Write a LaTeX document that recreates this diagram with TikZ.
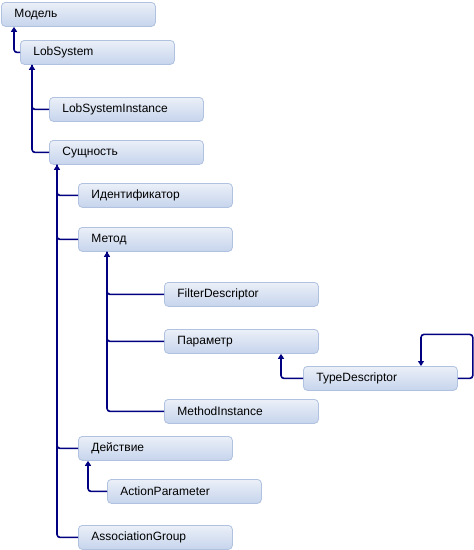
\documentclass[tikz,border=0pt]{standalone}
\usepackage{fontspec}
\setmainfont{Liberation Sans}
\usetikzlibrary{calc,arrows.meta}
\definecolor{navy}{HTML}{000080}
\definecolor{boxtop}{HTML}{EBF0F8}
\definecolor{boxbot}{HTML}{C6D4EC}
\definecolor{boxline}{HTML}{B0C2E0}
\tikzset{
  box/.style={anchor=north west, rounded corners=4pt, draw=boxline, line width=0.8pt,
    top color=boxtop, bottom color=boxbot, minimum height=24pt, text width=128pt,
    inner xsep=13pt, inner ysep=0pt, align=left, font=\fontsize{12pt}{14pt}\selectfont},
  conn/.style={draw=navy, line width=1.6pt, rounded corners=3pt, -{Triangle[length=5pt,width=6pt]}},
  plain/.style={draw=navy, line width=1.6pt, rounded corners=3pt},
}
\begin{document}
\begin{tikzpicture}[x=1pt,y=-1pt]
\useasboundingbox (0,0) rectangle (474,550);
\node[box] (model) at (1,2) {Модель};
\node[box] (lobsys) at (20,40) {LobSystem};
\node[box] (lsi) at (49,97) {LobSystemInstance};
\node[box] (ent) at (49,140) {Сущность};
\node[box] (ident) at (78,183) {Идентификатор};
\node[box] (method) at (78,227) {Метод};
\node[box] (filter) at (164,282) {FilterDescriptor};
\node[box] (param) at (164,329) {Параметр};
\node[box] (typed) at (303,366) {TypeDescriptor};
\node[box] (minst) at (164,399) {MethodInstance};
\node[box] (action) at (78,436) {Действие};
\node[box] (aparam) at (107,479) {ActionParameter};
\node[box] (assoc) at (78,525) {AssociationGroup};

\coordinate (mx) at ($(model.south west)+(13,0)$);
\coordinate (lx) at ($(lobsys.south west)+(12,0)$);
\coordinate (ex) at ($(ent.south west)+(8,0)$);
\coordinate (mtx) at ($(method.south west)+(29,0)$);
\coordinate (px) at ($(param.south west)+(117,0)$);
\coordinate (ax) at ($(action.south west)+(10,0)$);
\coordinate (lp1) at ($(typed.east)+(15,-44)$);
\coordinate (tx) at ($(typed.north west)+(118,0)$);

\draw[conn] (lobsys.west) -| (mx);
\draw[conn] (ent.west) -| (lx);
\draw[plain] (lsi.west) -| (lx);
\draw[conn] (assoc.west) -| (ex);
\draw[plain] (ident.west) -| (ex);
\draw[plain] (method.west) -| (ex);
\draw[plain] (action.west) -| (ex);
\draw[conn] (minst.west) -| (mtx);
\draw[plain] (filter.west) -| (mtx);
\draw[plain] (param.west) -| (mtx);
\draw[conn] (typed.west) -| (px);
\draw[conn] (aparam.west) -| (ax);
\draw[conn] (typed.east) -| (lp1) -| (tx);
\end{tikzpicture}
\end{document}
